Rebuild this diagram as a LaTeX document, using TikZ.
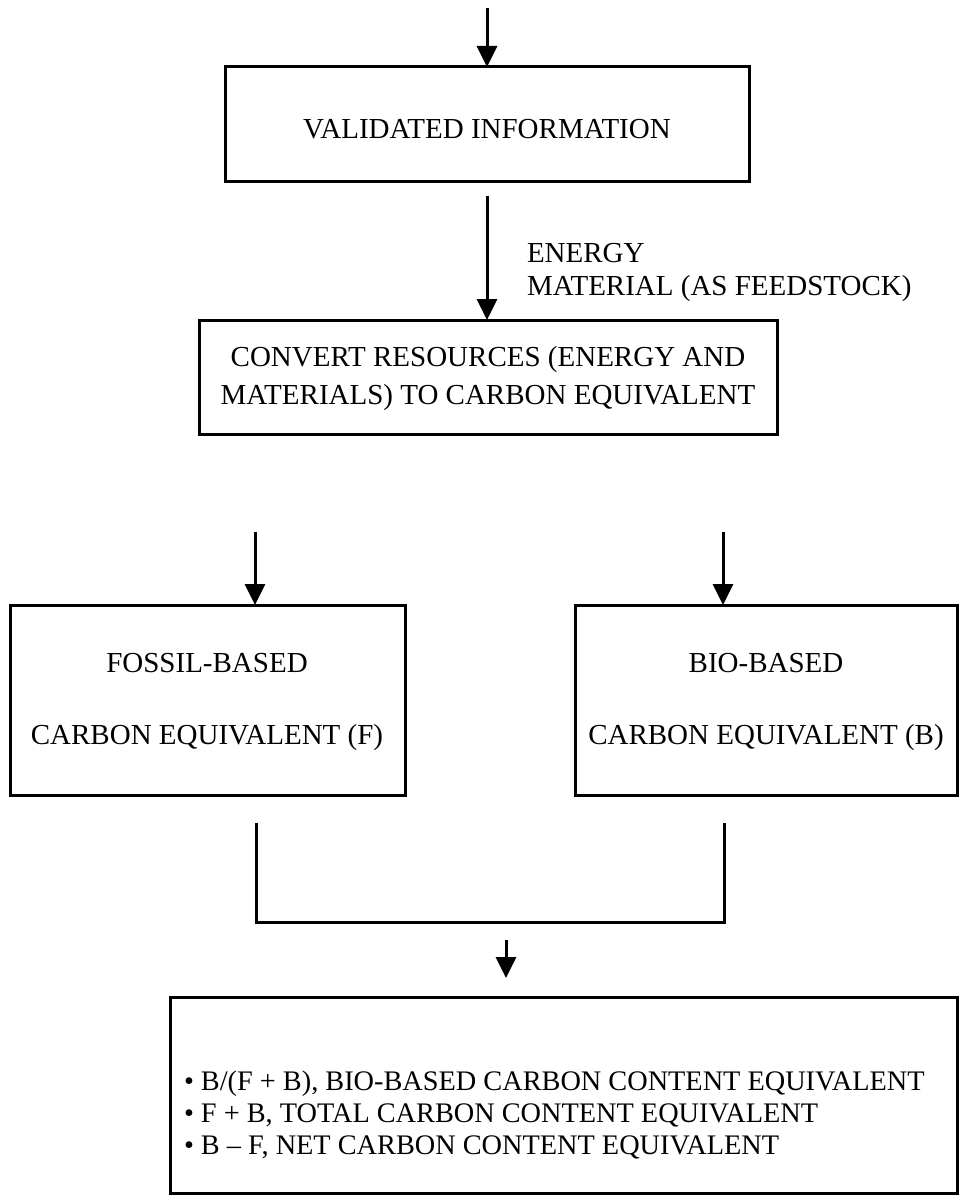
\documentclass[tikz,border=0pt]{standalone}
\usepackage{fontspec}
\setmainfont{Liberation Serif}
\usetikzlibrary{arrows.meta}
\begin{document}
\begin{tikzpicture}[x=1pt,y=-1pt,
  every node/.style={inner sep=0pt, outer sep=0pt},
  box/.style={draw, line width=3pt},
  txt/.style={font=\fontsize{29}{33}\selectfont, anchor=base},
  ltxt/.style={font=\fontsize{29}{33}\selectfont, anchor=base west},
  listtxt/.style={font=\fontsize{28.3}{32}\selectfont, anchor=base west},
  link/.style={line width=3pt},
  arr/.style={line width=3pt, -{Triangle[length=21pt,width=20pt]}}]
\useasboundingbox (0,0) rectangle (961,1198);

% boxes
\node[box, minimum width=524pt, minimum height=115pt] (valid) at (487,124.5) {};
\node[box, minimum width=578pt, minimum height=114pt] (convert) at (488,377) {};
\node[box, minimum width=395pt, minimum height=190pt] (fossil) at (207.5,700) {};
\node[box, minimum width=382pt, minimum height=190pt] (bio) at (766,700) {};
\node[box, minimum width=787pt, minimum height=196pt] (results) at (563.5,1095) {};

% texts
\node[txt] (validT) at (487,139) {VALIDATED INFORMATION};
\node[ltxt] (energyT) at (527,262) {ENERGY};
\node[ltxt] (materialT) at (527,295) {MATERIAL (AS FEEDSTOCK)};
\node[txt] (convT1) at (488,366) {CONVERT RESOURCES (ENERGY AND};
\node[txt] (convT2) at (488,404) {MATERIALS) TO CARBON EQUIVALENT};
\node[txt] (fosT1) at (207,672) {FOSSIL-BASED};
\node[txt] (fosT2) at (207,744) {CARBON EQUIVALENT (F)};
\node[txt] (bioT1) at (766,672) {BIO-BASED};
\node[txt] (bioT2) at (766,744) {CARBON EQUIVALENT (B)};
\node[listtxt] (res1) at (184,1090) {\textbullet\ B/(F + B), BIO-BASED CARBON CONTENT EQUIVALENT};
\node[listtxt] (res2) at (184,1122) {\textbullet\ F + B, TOTAL CARBON CONTENT EQUIVALENT};
\node[listtxt] (res3) at (184,1154) {\textbullet\ B – F, NET CARBON CONTENT EQUIVALENT};

% connectors
\coordinate (start) at (487,8);
\coordinate (xL) at (255,0);
\coordinate (xR) at (723,0);
\coordinate (bl) at (256,823);
\coordinate (br) at (724,823);
\coordinate (bm) at (506,922);
\coordinate (as) at (506,940);

\draw[arr] (start) -- (valid.north);
\draw[arr, shorten <=14pt] (valid.south) -- (valid.south |- convert.north);
\draw[arr, shorten <=98pt] (convert.south -| xL) -- (fossil.north -| xL);
\draw[arr, shorten <=98pt] (convert.south -| xR) -- (bio.north -| xR);
\draw[link] (bl) |- (bm) -| (br);
\draw[arr, shorten >=19pt] (as) -- (as |- results.north);
\end{tikzpicture}
\end{document}
